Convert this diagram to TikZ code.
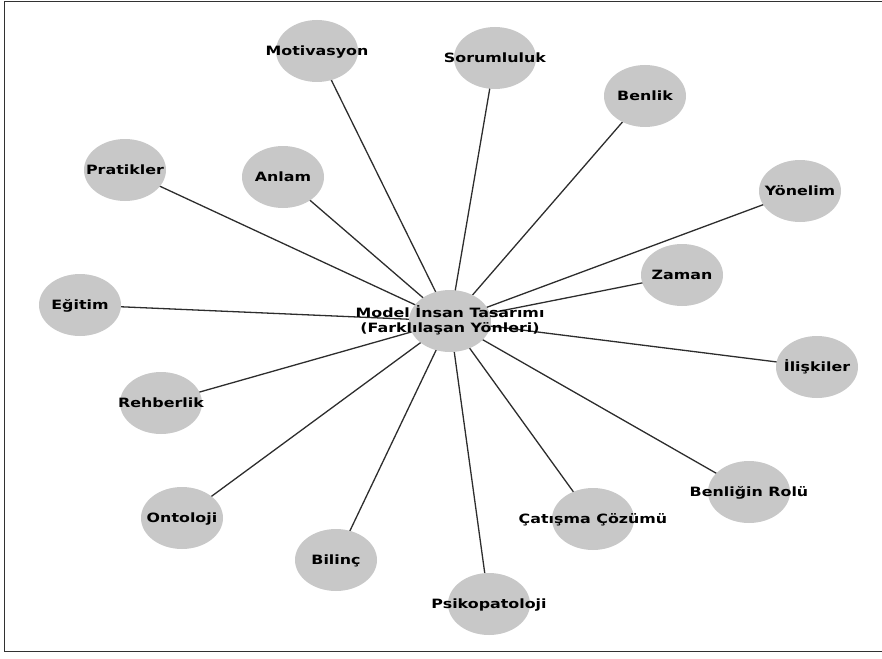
\documentclass[tikz,border=0pt]{standalone}
\usepackage{fontspec}
\newfontfamily\lblfont[FakeStretch=1.24]{DejaVu Sans Bold}
\usetikzlibrary{shapes.geometric,backgrounds}
\definecolor{bubfill}{RGB}{200,200,200}
\definecolor{edgecol}{RGB}{45,45,45}
\definecolor{framecol}{RGB}{50,50,50}
\tikzset{
  bub/.style={ellipse, fill=bubfill, draw=none, minimum width=82pt, minimum height=62pt, inner sep=0pt},
  lab/.style={font=\lblfont\fontsize{12.8pt}{14.5pt}\selectfont, text=black, inner sep=0pt, anchor=base, yshift=-4.6pt},
  edge/.style={draw=edgecol, line width=1.3pt},
  framestyle/.style={draw=framecol, line width=1.4pt}
}
\begin{document}
\begin{tikzpicture}[x=1pt,y=-1pt]
\useasboundingbox (0,0) rectangle (882,658);
\draw[framestyle] (883,1.5) -- (4.5,1.5) -- (4.5,651.5) -- (883,651.5);
% nodes
\node[bub] (c) at (450,321) {};
\node[bub] (mot) at (317,51) {};
\node[bub] (sor) at (495,58) {};
\node[bub] (ben) at (645,96) {};
\node[bub] (pra) at (125,170) {};
\node[bub] (anl) at (283,177) {};
\node[bub] (yon) at (800,191) {};
\node[bub] (zam) at (682,275) {};
\node[bub] (egi) at (80,305) {};
\node[bub] (ili) at (817,367) {};
\node[bub] (reh) at (161,403) {};
\node[bub] (rol) at (749,492) {};
\node[bub] (ont) at (182,518) {};
\node[bub] (cat) at (593,519) {};
\node[bub] (bil) at (336,560) {};
\node[bub] (psi) at (489,604) {};
% edges
\begin{scope}[on background layer]
\foreach \n in {mot,sor,ben,pra,anl,yon,zam,egi,ili,reh,rol,ont,cat,bil,psi}
  \draw[edge] (c.center) -- (\n.center);
\end{scope}
% labels
\node[lab] (ct1) at (c) [yshift=8.6pt] {Model İnsan Tasarımı};
\node[lab] (ct2) at (c) [yshift=-6.4pt] {(Farklılaşan Yönleri)};
\node[lab] (motT) at (mot) {Motivasyon};
\node[lab] (sorT) at (sor) {Sorumluluk};
\node[lab] (benT) at (ben) {Benlik};
\node[lab] (praT) at (pra) {Pratikler};
\node[lab] (anlT) at (anl) {Anlam};
\node[lab] (yonT) at (yon) {Yönelim};
\node[lab] (zamT) at (zam) {Zaman};
\node[lab] (egiT) at (egi) {Eğitim};
\node[lab] (iliT) at (ili) {İlişkiler};
\node[lab] (rehT) at (reh) {Rehberlik};
\node[lab] (rolT) at (rol) {Benliğin Rolü};
\node[lab] (ontT) at (ont) {Ontoloji};
\node[lab] (catT) at (cat) {Çatışma Çözümü};
\node[lab] (bilT) at (bil) {Bilinç};
\node[lab] (psiT) at (psi) {Psikopatoloji};
\end{tikzpicture}
\end{document}
